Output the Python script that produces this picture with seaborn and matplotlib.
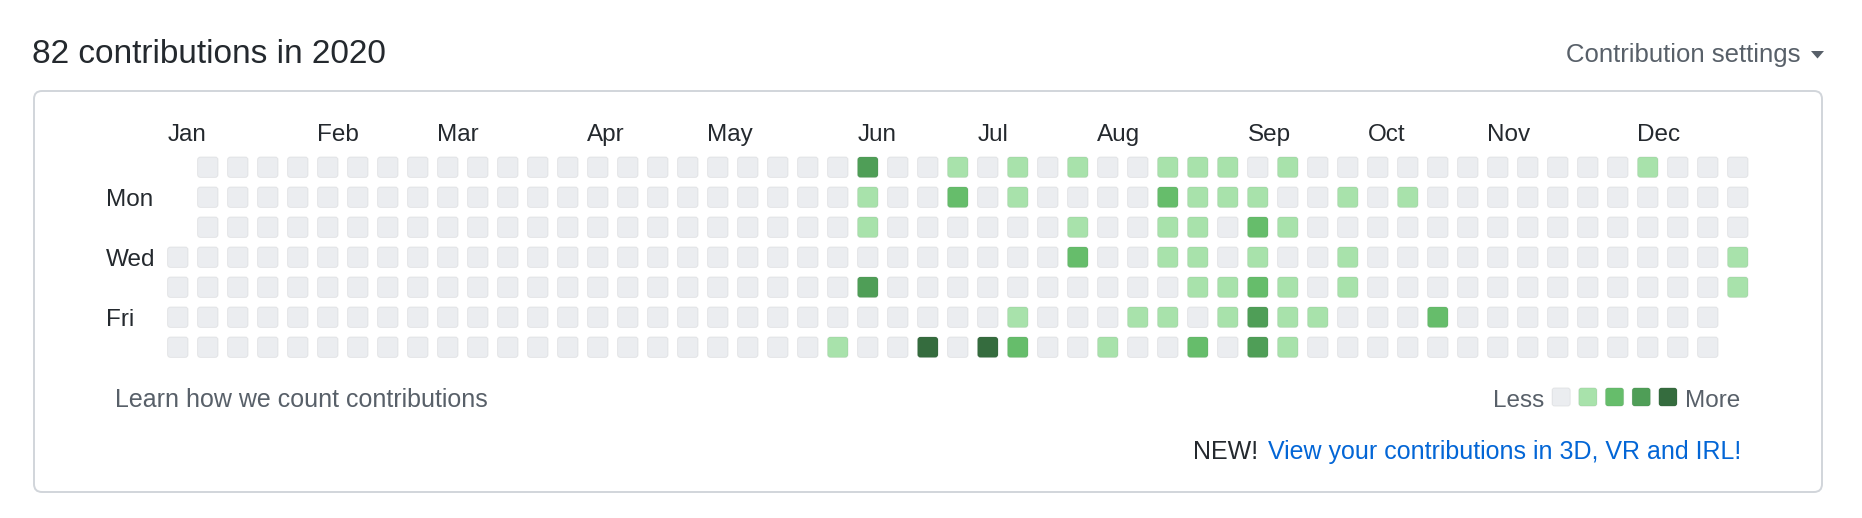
import matplotlib
matplotlib.use('Agg')
import matplotlib.pyplot as plt
import numpy as np
import pandas as pd
import seaborn as sns
from matplotlib.path import Path
from matplotlib.patches import FancyBboxPatch, Polygon

# --- DATA ---
year_start = '2020-01-01'
year_end = '2020-12-31'
total_contributions = 82

# cells with contributions: week column, weekday row (0 = Sun), level 1-4
active_weeks = [23, 26, 28, 30, 33, 34, 35, 37, 49,
                23, 26, 28, 33, 34, 35, 36, 39, 41,
                23, 30, 33, 34, 36, 37,
                30, 33, 34, 36, 39, 52,
                23, 34, 35, 36, 37, 39, 52,
                28, 32, 33, 35, 36, 37, 38, 42,
                22, 25, 27, 28, 31, 34, 36, 37]
active_days = [0] * 9 + [1] * 9 + [2] * 6 + [3] * 6 + [4] * 7 + [5] * 8 + [6] * 8
active_levels = [3, 1, 1, 1, 1, 1, 1, 1, 1,
                 1, 2, 1, 2, 1, 1, 1, 1, 1,
                 1, 1, 1, 1, 2, 1,
                 2, 1, 1, 1, 1, 1,
                 3, 1, 1, 2, 1, 1, 1,
                 1, 1, 1, 1, 3, 1, 1, 2,
                 1, 4, 4, 2, 1, 2, 3, 1]

months = ['Jan', 'Feb', 'Mar', 'Apr', 'May', 'Jun',
          'Jul', 'Aug', 'Sep', 'Oct', 'Nov', 'Dec']
month_weeks = [0, 5, 9, 14, 18, 23, 27, 31, 36, 40, 44, 49]
day_labels = ['Mon', 'Wed', 'Fri']
day_label_rows = [1, 3, 5]
legend_levels = [0, 1, 2, 3, 4]

level_colors = ['#ebedf0', '#a8e2ab', '#66bd6b', '#4f9e57', '#356c3e']
palette = dict(zip(legend_levels, level_colors))

# --- full calendar grid ---
dates = pd.date_range(year_start, year_end)
first_sunday = dates[0] - pd.Timedelta(days=(dates[0].dayofweek + 1) % 7)
df = pd.DataFrame({'week': (dates - first_sunday).days // 7,
                   'day': (dates.dayofweek + 1) % 7})
df['level'] = 0
active = pd.DataFrame({'week': active_weeks, 'day': active_days, 'level': active_levels})
df = df.merge(active, on=['week', 'day'], how='left', suffixes=('_base', ''))
df['level'] = df['level'].fillna(0).astype(int)

# rounded square marker
h, r = 0.5, 0.14
verts = [(-h + r, -h), (h - r, -h), (h, -h), (h, -h + r), (h, h - r), (h, h), (h - r, h),
         (-h + r, h), (-h, h), (-h, h - r), (-h, -h + r), (-h, -h), (-h + r, -h), (-h + r, -h)]
codes = [Path.MOVETO, Path.LINETO, Path.CURVE3, Path.CURVE3, Path.LINETO, Path.CURVE3, Path.CURVE3,
         Path.LINETO, Path.CURVE3, Path.CURVE3, Path.LINETO, Path.CURVE3, Path.CURVE3, Path.CLOSEPOLY]
rounded_square = Path(verts, codes)

sns.set_style('white')
plt.rcParams['font.family'] = ['Liberation Sans', 'DejaVu Sans']

W, H = 1862, 518
fig = plt.figure(figsize=(W / 100, H / 100), dpi=100)

# background layer in pixel coordinates (y down)
bg = fig.add_axes([0, 0, 1, 1])
bg.set_xlim(0, W)
bg.set_ylim(H, 0)
bg.axis('off')

bg.add_patch(FancyBboxPatch((34, 91), 1788, 401, boxstyle='round,pad=0,rounding_size=8',
                            facecolor='white', edgecolor='#d1d5da', linewidth=1.4))
bg.text(32, 62.7, f'{total_contributions} contributions in 2020', fontsize=24,
        color='#24292e', va='baseline', ha='left')
bg.text(1800, 62, 'Contribution settings', fontsize=18.5, color='#586069',
        va='baseline', ha='right')
bg.add_patch(Polygon([(1811, 51), (1824, 51), (1817.5, 58.5)], closed=True,
                     facecolor='#586069', edgecolor='none'))
bg.text(115, 406.7, 'Learn how we count contributions', fontsize=18, color='#586069',
        va='baseline', ha='left')
bg.text(1544, 406.7, 'Less', fontsize=17.5, color='#586069', va='baseline', ha='right')
bg.text(1685, 406.7, 'More', fontsize=17.5, color='#586069', va='baseline', ha='left')
bg.text(1258, 459.3, 'NEW!', fontsize=18, color='#24292e', va='baseline', ha='right')
bg.text(1741.5, 459.3, 'View your contributions in 3D, VR and IRL!', fontsize=18,
        color='#0366d6', va='baseline', ha='right')

# contribution grid
ax = fig.add_axes([162.8 / W, (H - 362.2) / H, 1590 / W, 210 / H])
sns.scatterplot(data=df, x='week', y='day', hue='level', palette=palette,
                marker=rounded_square, s=218, linewidth=0.7,
                edgecolor=(27 / 255, 31 / 255, 35 / 255, 0.07), legend=False, ax=ax)
ax.set_xlim(-0.5, 52.5)
ax.set_ylim(6.5, -0.5)
ax.axis('off')

for m, w in zip(months, month_weeks):
    ax.text(w - 0.345, -0.883, m, fontsize=17.5, color='#24292e',
            va='baseline', ha='left', clip_on=False)
for d, row in zip(day_labels, day_label_rows):
    ax.text(-2.41, row + 0.283, d, fontsize=17.5, color='#24292e',
            va='baseline', ha='left', clip_on=False)

# legend squares
lax = fig.add_axes([1547.8 / W, (H - 407) / H, 133.5 / W, 20 / H])
sns.scatterplot(x=legend_levels, y=[0] * len(legend_levels), hue=legend_levels,
                palette=palette, marker=rounded_square, s=172, linewidth=0.7,
                edgecolor=(27 / 255, 31 / 255, 35 / 255, 0.07), legend=False, ax=lax)
lax.set_xlim(-0.5, 4.5)
lax.set_ylim(0.5, -0.5)
lax.axis('off')

fig.savefig('out.png', dpi=100)
